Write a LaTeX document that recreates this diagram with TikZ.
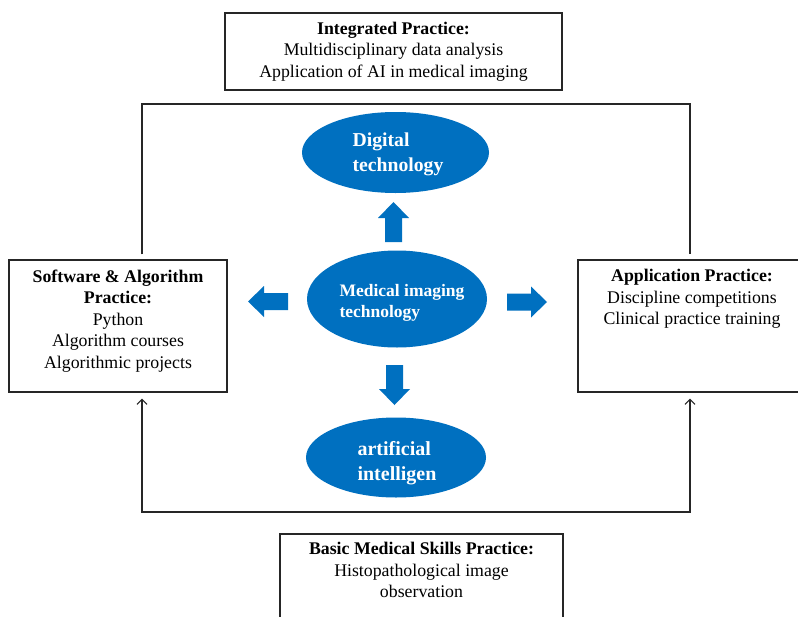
\documentclass[tikz,border=0pt]{standalone}
\usepackage{fontspec}
\setmainfont{Liberation Serif}
\usetikzlibrary{shapes.geometric,arrows.meta}
\definecolor{techblue}{HTML}{0070C0}
\definecolor{edgegray}{HTML}{262626}
\begin{document}
\begin{tikzpicture}[x=1pt,y=-1pt,
  box/.style={draw=edgegray,line width=1.3pt,fill=white,inner sep=0},
  boxtext/.style={align=center,inner sep=0,font=\fontsize{17.8}{21.5}\selectfont},
  bubble/.style={ellipse,fill=techblue,inner sep=0},
  bubbletext/.style={text=white,align=left,inner sep=0},
  link/.style={draw=edgegray,line width=1.1pt},
  barb/.tip={Straight Barb[length=5pt,width=10pt,line width=1.1pt]},
  blockarrow/.pic={\fill[techblue] (0,-8.5) -- (24,-8.5) -- (24,-15.5) -- (40,0)
                   -- (24,15.5) -- (24,8.5) -- (0,8.5) -- cycle;}
]
\useasboundingbox (0,0) rectangle (798,616);
\clip (0,0) rectangle (798,616);
\fill[white] (0,0) rectangle (798,616);

% practice boxes
\node[box,boxtext,minimum width=337pt,minimum height=77pt] (integ) at (393.5,51.5)
  {\textbf{Integrated Practice:}\\Multidisciplinary data analysis\\Application of AI in medical imaging};
\node[box,minimum width=218pt,minimum height=132pt] (soft) at (118,326) {};
\node[boxtext] (softt) at (118,321)
  {\textbf{Software \& Algorithm}\\\textbf{Practice:}\\Python\\Algorithm courses\\Algorithmic projects};
\node[box,minimum width=228pt,minimum height=132pt] (app) at (692,326) {};
\node[boxtext] (appt) at (692,299)
  {\textbf{Application Practice:}\\Discipline competitions\\Clinical practice training};
\node[box,minimum width=283pt,minimum height=106pt] (basic) at (421.5,587) {};
\node[boxtext] (basict) at (421.5,570)
  {\textbf{Basic Medical Skills Practice:}\\Histopathological image\\observation};

% central topics
\node[bubble,minimum width=187pt,minimum height=81pt] (digital) at (395.5,152.5) {};
\node[bubbletext,font=\bfseries\fontsize{19.7}{25}\selectfont] (digitalt) at (398,154.5)
  {Digital\\technology};
\node[bubble,minimum width=180pt,minimum height=97pt] (medical) at (397,299) {};
\node[bubbletext,font=\bfseries\fontsize{17.5}{21}\selectfont] (medicalt) at (402,302.5)
  {Medical imaging\\technology};
\node[bubble,minimum width=180pt,minimum height=80pt] (ai) at (396,457.5) {};
\node[bubbletext,font=\bfseries\fontsize{20}{24.5}\selectfont] (ait) at (397,463)
  {artificial\\intelligen};

% block arrows around the centre
\pic[rotate=90]  at (393.5,242) {blockarrow};
\pic[rotate=-90] at (394.5,365) {blockarrow};
\pic[rotate=180] at (288,301.5) {blockarrow};
\pic             at (507,302)   {blockarrow};

% connectors between the boxes
\coordinate (lt) at (142,104);
\coordinate (rt) at (690,104);
\coordinate (lb) at (142,512);
\coordinate (rb) at (690,512);
\draw[link,shorten <=5pt,shorten >=5pt] (lt |- soft.north) -- (lt) -- (rt) -- (rt |- app.north);
\draw[link,barb-barb,shorten <=6pt,shorten >=6pt] (lb |- soft.south) -- (lb) -- (rb) -- (rb |- app.south);
\end{tikzpicture}
\end{document}
